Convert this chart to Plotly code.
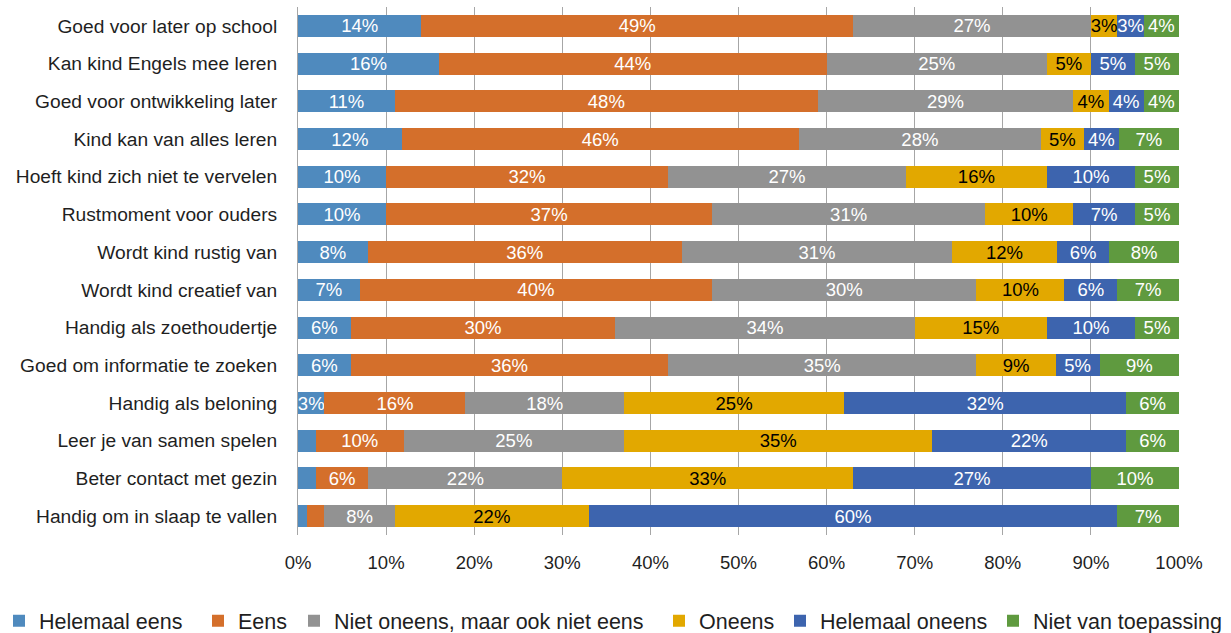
import plotly.graph_objects as go

categories = [
    "Goed voor later op school",
    "Kan kind Engels mee leren",
    "Goed voor ontwikkeling later",
    "Kind kan van alles leren",
    "Hoeft kind zich niet te vervelen",
    "Rustmoment voor ouders",
    "Wordt kind rustig van",
    "Wordt kind creatief van",
    "Handig als zoethoudertje",
    "Goed om informatie te zoeken",
    "Handig als beloning",
    "Leer je van samen spelen",
    "Beter contact met gezin",
    "Handig om in slaap te vallen",
]

helemaal_eens = [14, 16, 11, 12, 10, 10, 8, 7, 6, 6, 3, 2, 2, 1]
eens = [49, 44, 48, 46, 32, 37, 36, 40, 30, 36, 16, 10, 6, 2]
neutraal = [27, 25, 29, 28, 27, 31, 31, 30, 34, 35, 18, 25, 22, 8]
oneens = [3, 5, 4, 5, 16, 10, 12, 10, 15, 9, 25, 35, 33, 22]
helemaal_oneens = [3, 5, 4, 4, 10, 7, 6, 6, 10, 5, 32, 22, 27, 60]
niet_van_toepassing = [4, 5, 4, 7, 5, 5, 8, 7, 5, 9, 6, 6, 10, 7]

series_names = [
    "Helemaal eens",
    "Eens",
    "Niet oneens, maar ook niet eens",
    "Oneens",
    "Helemaal oneens",
    "Niet van toepassing",
]
series_values = [helemaal_eens, eens, neutraal, oneens, helemaal_oneens, niet_van_toepassing]
colors = ["#4F8ABE", "#D46F2B", "#929292", "#E2A800", "#3D64AE", "#5F9A3F"]
text_colors = ["white", "white", "white", "black", "white", "white"]

x_ticks = [0, 10, 20, 30, 40, 50, 60, 70, 80, 90, 100]

FONT = "Liberation Sans"
TXT = "#1f1f1f"

W, H = 1231, 633
ML, MR, MT, MB = 298, 52, 7, 98
PW = W - ML - MR
PH = H - MT - MB

# left pixel of each legend entry's text in the layout
legend_text_px = [39, 238, 334, 699, 820, 1033]
legend_center_px = 620.8

fig = go.Figure()
layout_legends = {}
for i, (name, vals, col, tcol) in enumerate(zip(series_names, series_values, colors, text_colors)):
    lid = "legend" if i == 0 else f"legend{i + 1}"
    fig.add_trace(go.Bar(
        y=categories,
        x=vals,
        name=name,
        orientation="h",
        marker=dict(color=col, line=dict(width=0)),
        text=[f"{v}%" if v >= 3 else "" for v in vals],
        textposition="inside",
        insidetextanchor="middle",
        textfont=dict(color=tcol, size=18.5, family=FONT),
        constraintext="none",
        hoverinfo="skip",
        legend=lid,
    ))
    layout_legends[lid] = dict(
        orientation="h",
        x=(legend_text_px[i] - 40 - ML) / PW,
        xanchor="left",
        y=-(legend_center_px - (MT + PH)) / PH,
        yanchor="middle",
        font=dict(size=21.5, family=FONT, color=TXT),
        itemclick=False,
        itemdoubleclick=False,
        bgcolor="rgba(0,0,0,0)",
    )

fig.update_layout(
    width=W,
    height=H,
    barmode="stack",
    barnorm="percent",
    bargap=0.415,
    plot_bgcolor="white",
    paper_bgcolor="white",
    margin=dict(l=ML, r=MR, t=MT, b=MB, autoexpand=False),
    font=dict(family=FONT, color=TXT),
    uniformtext=dict(minsize=18.5, mode="show"),
    showlegend=True,
    **layout_legends,
)

fig.update_xaxes(
    range=[0, 100],
    tickvals=x_ticks,
    ticktext=[f"{t}%" for t in x_ticks],
    showgrid=True,
    gridcolor="#A6A6A6",
    gridwidth=1,
    zeroline=False,
    showline=False,
    ticks="",
    ticklabelstandoff=14,
    tickfont=dict(size=18.5, family=FONT, color=TXT),
    fixedrange=True,
)
fig.update_yaxes(
    autorange="reversed",
    showline=True,
    linecolor="#A6A6A6",
    linewidth=1,
    ticks="",
    ticklabelstandoff=16,
    tickfont=dict(size=19.2, family=FONT, color=TXT),
    fixedrange=True,
)

fig.write_html(
    "out.html",
    config={"displayModeBar": False},
    post_script="document.body.style.margin='0';document.body.style.padding='0';",
)
